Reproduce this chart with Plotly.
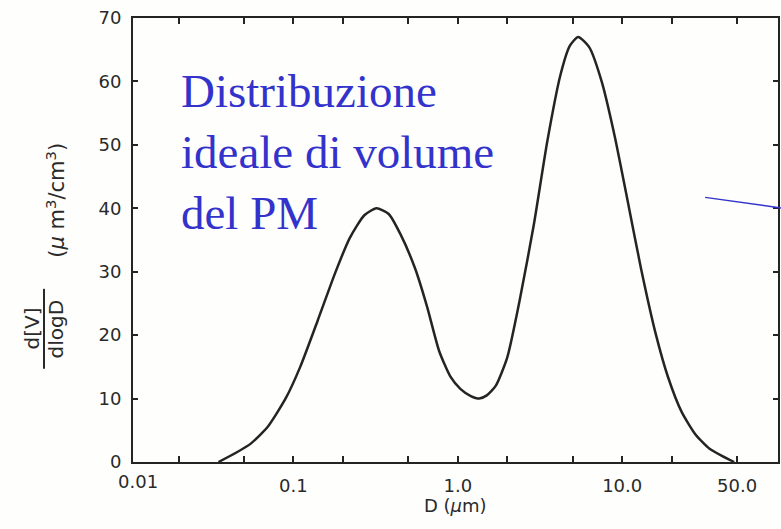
import plotly.graph_objects as go

# particle diameter (um) and dV/dlogD (um^3/cm^3)
diam = [0.035, 0.045, 0.055, 0.07, 0.09, 0.11, 0.14, 0.18, 0.22, 0.27, 0.32,
        0.38, 0.45, 0.55, 0.65, 0.77, 0.9, 1.04, 1.2, 1.35, 1.5, 1.7, 2.0,
        2.4, 2.9, 3.5, 4.2, 4.8, 5.4, 6.3, 7.5, 9, 11, 13, 16, 19, 23, 28,
        34, 41, 48]
dvdlogd = [0, 1.5, 2.9, 5.6, 10.1, 15, 22.2, 29.9, 35.3, 38.9, 40,
           39.1, 35.8, 30.5, 24.5, 17.5, 13.5, 11.5, 10.4, 10, 10.5, 12, 16.5,
           26, 37.4, 50.5, 60.9, 65.6, 67, 65.4, 60, 51.4, 40.1, 30.6, 20.2,
           13.4, 7.9, 4.3, 2.1, 0.9, 0]

x_tickvals = [0.02, 0.05, 0.1, 0.2, 0.5, 1, 2, 5, 10, 20, 50]
x_ticktext = ["", "", "0.1", "", "", "1.0", "", "", "10.0", "", "50.0"]
y_tickvals = [0, 10, 20, 30, 40, 50, 60, 70]

ink = "#242424"
text_ink = "#2a2a2a"
blue = "#3333cc"
sans = "DejaVu Sans"

fig = go.Figure()
fig.add_trace(go.Scatter(x=diam, y=dvdlogd, mode="lines",
                         line=dict(color=ink, width=2.5, shape="spline", smoothing=0.6),
                         showlegend=False, hoverinfo="skip"))

fig.update_layout(width=781, height=529,
                  margin=dict(l=133, r=3, t=18, b=67),
                  paper_bgcolor="#fefefc", plot_bgcolor="#fefefc",
                  font=dict(family=sans, size=18, color=text_ink))

fig.update_xaxes(type="log", range=[-1.976, 1.948],
                 tickvals=x_tickvals, ticktext=x_ticktext,
                 ticks="inside", ticklen=6, tickwidth=1.5, tickcolor=ink,
                 showline=True, linecolor=ink, linewidth=2, mirror="ticks",
                 showgrid=False, zeroline=False, ticklabelstandoff=6,
                 automargin=False)
fig.update_yaxes(range=[0, 70], tickvals=y_tickvals,
                 ticks="inside", ticklen=5, tickwidth=1.5, tickcolor=ink,
                 showline=True, linecolor=ink, linewidth=2, mirror="ticks",
                 showgrid=False, zeroline=False, ticklabelstandoff=6,
                 automargin=False)

# left-most x label sits just inside the frame in the scan
fig.add_annotation(text="0.01", xref="paper", yref="paper", x=0.008, y=-0.045,
                   xanchor="center", yanchor="middle", showarrow=False)
fig.add_annotation(text="D (<i>µ</i>m)", xref="paper", yref="paper", x=0.5, y=-0.097,
                   xanchor="center", yanchor="middle", showarrow=False,
                   font=dict(size=18))

# y-axis label drawn as a rotated fraction
fig.add_annotation(text="d[V]", xref="paper", yref="paper", x=-0.157, y=0.30,
                   xanchor="center", yanchor="middle", textangle=-90,
                   showarrow=False, font=dict(size=20))
fig.add_annotation(text="dlogD", xref="paper", yref="paper", x=-0.12, y=0.30,
                   xanchor="center", yanchor="middle", textangle=-90,
                   showarrow=False, font=dict(size=20))
fig.add_shape(type="line", xref="paper", yref="paper",
              x0=-0.138, x1=-0.138, y0=0.21, y1=0.39, line=dict(color=text_ink, width=2))
fig.add_annotation(text="(<i>µ</i> m<sup>3</sup>/cm<sup>3</sup>)", xref="paper", yref="paper",
                   x=-0.12, y=0.59, xanchor="center", yanchor="middle", textangle=-90,
                   showarrow=False, font=dict(size=21))

# blue caption and pointer line
fig.add_annotation(text="Distribuzione<br>ideale di volume<br>del PM",
                   xref="paper", yref="paper", x=0.072, y=0.899,
                   xanchor="left", yanchor="top", align="left", showarrow=False,
                   font=dict(family="Liberation Serif", size=47, color=blue))
fig.add_shape(type="line", xref="paper", yref="paper",
              x0=0.887, y0=0.596, x1=1.01, y1=0.571,
              line=dict(color=blue, width=1.5))

# drop the browser's default 8px body margin so the figure sits at the page corner
fig.write_html("out.html", config={"displayModeBar": False},
               post_script="document.body.style.margin='0';")
